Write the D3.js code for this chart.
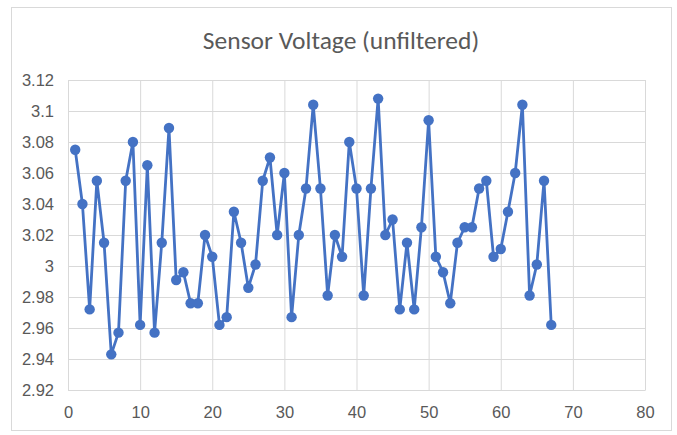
<!DOCTYPE html>
<html>
<head>
<meta charset="utf-8">
<script src="https://cdn.jsdelivr.net/npm/d3@7"></script>
<style>
  html, body { margin: 0; padding: 0; background: #fff; }
  svg { display: block; font-family: Carlito, "Open Sans", "Liberation Sans", sans-serif; }
</style>
</head>
<body>
<div id="chart"></div>
<script>
// sample index and measured voltage
const xs = d3.range(1, 68);
const voltage = [
  3.075, 3.04, 2.972, 3.055, 3.015, 2.943, 2.957, 3.055, 3.08, 2.962,
  3.065, 2.957, 3.015, 3.089, 2.991, 2.996, 2.976, 2.976, 3.02, 3.006,
  2.962, 2.967, 3.035, 3.015, 2.986, 3.001, 3.055, 3.07, 3.02, 3.06,
  2.967, 3.02, 3.05, 3.104, 3.05, 2.981, 3.02, 3.006, 3.08, 3.05,
  2.981, 3.05, 3.108, 3.02, 3.03, 2.972, 3.015, 2.972, 3.025, 3.094,
  3.006, 2.996, 2.976, 3.015, 3.025, 3.025, 3.05, 3.055, 3.006, 3.011,
  3.035, 3.06, 3.104, 2.981, 3.001, 3.055, 2.962
];
const xTicks = [0, 10, 20, 30, 40, 50, 60, 70, 80];
const yTicks = [2.92, 2.94, 2.96, 2.98, 3, 3.02, 3.04, 3.06, 3.08, 3.1, 3.12];
const title = "Sensor Voltage (unfiltered)";

const data = xs.map((x, i) => ({ x, y: voltage[i] }));

const width = 677, height = 435;
const m = { top: 80, right: 32, bottom: 45, left: 68 };

const svg = d3.select("#chart").append("svg")
  .attr("width", width)
  .attr("height", height);

// chart frame
svg.append("rect")
  .attr("x", 11.5).attr("y", 7.5)
  .attr("width", 660).attr("height", 423)
  .attr("fill", "#fff")
  .attr("stroke", "#d9d9d9");

const x = d3.scaleLinear()
  .domain([0, 80])
  .range([m.left, width - m.right]);

const y = d3.scaleLinear()
  .domain([2.92, 3.12])
  .range([height - m.bottom, m.top]);

// gridlines
svg.append("g")
  .attr("transform", `translate(0,${height - m.bottom})`)
  .call(d3.axisBottom(x).tickValues(xTicks).tickFormat(d3.format("d"))
    .tickSize(-(height - m.top - m.bottom)).tickSizeOuter(0).tickPadding(16))
  .call(g => g.select(".domain").attr("stroke", "#d0d0d0"))
  .call(g => g.selectAll(".tick line").attr("stroke", "#d9d9d9"))
  .call(g => g.selectAll(".tick text").attr("fill", "#595959").attr("font-size", 16.5));

svg.append("g")
  .attr("transform", `translate(${m.left},0)`)
  .call(d3.axisLeft(y).tickValues(yTicks).tickFormat(d => d3.format("")(+d.toFixed(2)))
    .tickSize(-(width - m.left - m.right)).tickSizeOuter(0).tickPadding(14))
  .call(g => g.select(".domain").remove())
  .call(g => g.selectAll(".tick line").attr("stroke", "#d9d9d9"))
  .call(g => g.selectAll(".tick text").attr("fill", "#595959").attr("font-size", 16.5));

svg.append("text")
  .attr("x", 341)
  .attr("y", 49)
  .attr("text-anchor", "middle")
  .attr("font-size", 25.5)
  .attr("fill", "#595959")
  .text(title);

const line = d3.line()
  .x(d => x(d.x))
  .y(d => y(d.y));

svg.append("path")
  .datum(data)
  .attr("fill", "none")
  .attr("stroke", "#4472c4")
  .attr("stroke-width", 2.8)
  .attr("stroke-linejoin", "round")
  .attr("d", line);

svg.append("g")
  .selectAll("circle")
  .data(data)
  .join("circle")
  .attr("cx", d => x(d.x))
  .attr("cy", d => y(d.y))
  .attr("r", 5.2)
  .attr("fill", "#4472c4");
</script>
</body>
</html>
